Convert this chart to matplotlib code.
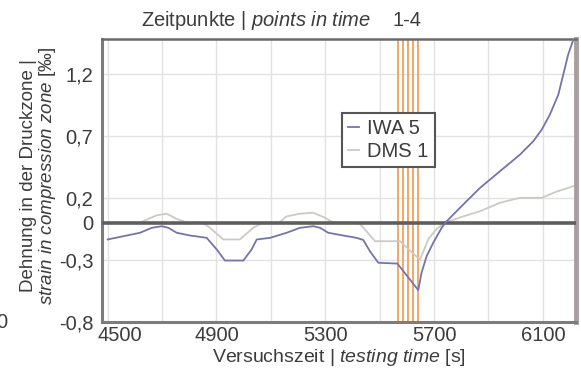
import matplotlib
matplotlib.use("Agg")
import matplotlib.pyplot as plt
import matplotlib.transforms as mtransforms

plt.rcParams['font.family'] = ['Liberation Sans', 'DejaVu Sans']
plt.rcParams['mathtext.fontset'] = 'custom'
plt.rcParams['mathtext.rm'] = 'Liberation Sans'
plt.rcParams['mathtext.it'] = 'Liberation Sans:italic'

# ---------------- data ----------------
iwa5_t = [4500, 4557, 4619, 4662, 4699, 4723, 4754, 4803, 4864, 4901, 4931, 4999,
          5029, 5048, 5097, 5158, 5207, 5256, 5281, 5311, 5366, 5415, 5440, 5464,
          5495, 5556, 5565, 5642, 5654, 5673, 5697, 5728, 5746, 5800, 5869, 5942,
          6016, 6065, 6096, 6126, 6157, 6175, 6193, 6212, 6225]
iwa5_v = [-0.136, -0.11, -0.082, -0.042, -0.029, -0.042, -0.082, -0.104, -0.123, -0.217, -0.306, -0.306,
          -0.217, -0.136, -0.123, -0.082, -0.042, -0.029, -0.042, -0.082, -0.104, -0.123, -0.14, -0.23,
          -0.324, -0.33, -0.33, -0.545, -0.405, -0.27, -0.163, -0.042, 0.01, 0.13, 0.28, 0.414,
          0.549, 0.657, 0.751, 0.872, 1.033, 1.194, 1.355, 1.476, 1.53]

dms1_t = [4500, 4560, 4620, 4650, 4680, 4717, 4754, 4790, 4850, 4876, 4925, 4986,
          5035, 5070, 5130, 5158, 5207, 5255, 5293, 5330, 5400, 5428, 5483, 5575,
          5648, 5680, 5710, 5740, 5800, 5869, 5942, 6016, 6096, 6150, 6212, 6225]
dms1_v = [0.0, 0.0, 0.0, 0.03, 0.059, 0.072, 0.03, 0.0, 0.0, -0.042, -0.136, -0.136,
          -0.042, 0.0, 0.0, 0.05, 0.072, 0.08, 0.046, 0.0, 0.0, -0.01, -0.15, -0.15,
          -0.30, -0.13, -0.05, 0.0, 0.045, 0.092, 0.16, 0.2, 0.2, 0.25, 0.294, 0.3]

time_points = [5568, 5587, 5605, 5624, 5642]

x_ticks = [4500, 4900, 5300, 5700, 6100]
x_grid = [4500, 4700, 4900, 5100, 5300, 5500, 5700, 5900, 6100]
y_ticks = [-0.8, -0.3, 0.0, 0.2, 0.7, 1.2]
y_ticklabels = ['-0,8', '-0,3', '0', '0,2', '0,7', '1,2']
y_grid = [-0.3, 0.2, 0.7, 1.2]

series_labels = ['IWA 5', 'DMS 1']

# ---------------- figure ----------------
W, H = 581, 370
fig = plt.figure(figsize=(W / 100, H / 100), dpi=100)
left, right, top, bottom = 101.7, 576.0, 39.3, 321.7
ax = fig.add_axes([left / W, 1 - bottom / H, (right - left) / W, (bottom - top) / H])

txt_col = '#3c3c3c'
fs = 14.5

ax.set_xlim(4478, 6222)
ax.set_ylim(-0.8, 1.48)

for g in x_grid:
    ax.axvline(g, color='#e2e2e2', lw=1.0, zorder=0)
for g in y_grid:
    ax.axhline(g, color='#e2e2e2', lw=1.0, zorder=0)

for tp in time_points:
    ax.axvline(tp, color='#f2a868', lw=1.4, zorder=1)

ax.plot(dms1_t, dms1_v, color='#cdc9c4', lw=1.3, zorder=2, label=series_labels[1])
ax.axhline(0, color='#5e5e5e', lw=2.6, zorder=3)
ax.plot(iwa5_t, iwa5_v, color='#7474ac', lw=1.3, zorder=4, label=series_labels[0])

ax.set_xticks(x_ticks)
ax.set_xticklabels([str(v) for v in x_ticks])
ax.set_yticks(y_ticks)
ax.set_yticklabels(y_ticklabels)
ax.tick_params(length=0, labelsize=fs, labelcolor=txt_col)
ax.tick_params(axis='x', pad=3)
ax.tick_params(axis='y', pad=6)
# shift first x tick label right as in reference
lbl = ax.get_xticklabels()[0]
lbl.set_transform(lbl.get_transform() + mtransforms.ScaledTranslation(12 / 100, 0, fig.dpi_scale_trans))

for s in ['left', 'bottom']:
    ax.spines[s].set_color('#7c7c7c')
    ax.spines[s].set_linewidth(2.2)
ax.spines['top'].set_color('#6a6a6a')
ax.spines['top'].set_linewidth(1.8)
ax.spines['right'].set_color('#a89f9f')
ax.spines['right'].set_linewidth(3.5)

handles, labels = ax.get_legend_handles_labels()
order = [labels.index(series_labels[0]), labels.index(series_labels[1])]
leg = ax.legend([handles[i] for i in order], [labels[i] for i in order],
                loc='upper left', bbox_to_anchor=(342 / W, 1 - 113 / H),
                bbox_transform=fig.transFigure, borderaxespad=0,
                handlelength=0.55, handletextpad=0.4, borderpad=0.3,
                labelspacing=0.2, fancybox=False, framealpha=1,
                fontsize=fs, labelcolor=txt_col)
leg.get_frame().set_edgecolor('#555555')
leg.get_frame().set_linewidth(1.5)

# title pieces
fig.text(256 / W, 1 - 21 / H, r'Zeitpunkte | $\mathit{points\ in\ time}$',
         ha='center', va='center', fontsize=fs, color=txt_col)
fig.text(407 / W, 1 - 21 / H, '1-4', ha='center', va='center', fontsize=fs, color=txt_col)

# x label
fig.text((left + right) / 2 / W, 2 / H, r'Versuchszeit | $\mathit{testing\ time}$ [s]',
         ha='center', va='bottom', fontsize=14, color=txt_col)

# y label (two lines)
ymid = 1 - 176 / H
fsy = 13.5
fig.text(29 / W, ymid, 'Dehnung in der Druckzone |', rotation=90,
         ha='center', va='center', fontsize=fsy, color=txt_col)
fig.text(48 / W, ymid, r'$\mathit{strain\ in\ compression\ zone}$ [‰]', rotation=90,
         ha='center', va='center', fontsize=fsy, color=txt_col)

# cropped fragment at left edge (as in reference)
fig.text(2 / W, 1 - 322 / H, '0', ha='center', va='center', fontsize=fs, color=txt_col)

fig.savefig('out.png', dpi=100)
